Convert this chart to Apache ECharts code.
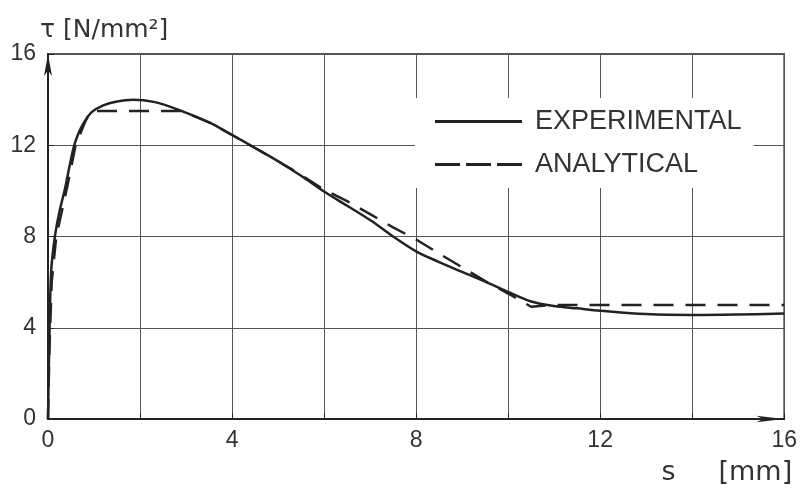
<!DOCTYPE html>
<html>
<head>
<meta charset="utf-8">
<title>tau - s</title>
<script src="https://cdn.jsdelivr.net/npm/echarts@6.0.0/dist/echarts.min.js"></script>
<style>
  html, body { margin: 0; padding: 0; background: #fff; }
  #main { width: 800px; height: 495px; }
</style>
</head>
<body>
<div id="main"></div>
<script>
// 实验曲线 (slip s in mm, shear stress tau in N/mm2)
const expS = [0, 0.03, 0.07, 0.15, 0.25, 0.37, 0.47, 0.57, 0.68, 0.8,
  0.95, 1.2, 1.5, 1.85, 2.3, 2.87, 3.5, 4.0, 4.5, 5.0,
  5.5, 6.0, 6.5, 7.0, 7.5, 8.0, 8.5, 9.0, 9.5, 10.0,
  10.5, 11.0, 11.5, 12.0, 13.0, 14.0, 15.0, 16.0];
const expTau = [0, 3.5, 6.5, 8.0, 9.1, 10.1, 11.1, 12.0, 12.6, 13.05,
  13.45, 13.75, 13.92, 14.0, 13.9, 13.53, 13.0, 12.45, 11.88, 11.3,
  10.66, 9.97, 9.35, 8.72, 8.0, 7.35, 6.88, 6.45, 6.02, 5.57,
  5.15, 4.95, 4.85, 4.75, 4.6, 4.56, 4.58, 4.62];

// 解析曲线
const anaS = [0, 0.03, 0.08, 0.18, 0.42, 0.6, 0.8, 0.92, 2.9, 3.5,
  4.0, 4.5, 5.0, 5.5, 6.0, 6.5, 7.0, 7.5, 8.0, 8.5,
  9.0, 9.5, 10.0, 10.5, 11.0, 16.0];
const anaTau = [0, 3.0, 6.0, 8.0, 10.2, 12.0, 13.0, 13.5, 13.5, 13.0,
  12.45, 11.88, 11.3, 10.7, 10.05, 9.55, 8.98, 8.4, 7.87, 7.25,
  6.65, 6.05, 5.5, 4.92, 5.0, 5.0];

const xLabels = [0, 4, 8, 12, 16];
const yLabels = [0, 4, 8, 12, 16];
const seriesNames = ["EXPERIMENTAL", "ANALYTICAL"];

const pairs = (xs, ys) => xs.map((x, i) => [x, ys[i]]);

const ink = "#222";
const font = "Liberation Sans";

const myChart = echarts.init(document.getElementById("main"));
const option = {
  animation: false,
  backgroundColor: "#fff",
  grid: {
    left: 48,
    right: 15,
    top: 54,
    bottom: 76,
    show: true,
    borderColor: ink,
    borderWidth: 1.5
  },
  legend: {
    orient: "vertical",
    left: 415,
    top: 98,
    padding: [10, 12, 10, 20],
    backgroundColor: "#fff",
    itemWidth: 87,
    itemHeight: 3,
    itemGap: 16,
    itemStyle: { color: ink },
    // 图例用自画的实线/虚线
    data: [
      { name: seriesNames[0], icon: "rect" },
      { name: seriesNames[1], icon: "path://M0,0h25v3h-25z M31,0h25v3h-25z M62,0h25v3h-25z" }
    ],
    textStyle: {
      fontFamily: font,
      fontSize: 27,
      color: "#333",
      padding: [0, 0, 0, 8]
    }
  },
  xAxis: {
    type: "value",
    min: 0,
    max: 16,
    interval: 2,
    name: "s     [mm]",
    nameLocation: "end",
    nameGap: 8,
    nameTextStyle: {
      fontFamily: "DejaVu Sans",
      fontSize: 27,
      color: "#333",
      align: "right",
      verticalAlign: "top",
      padding: [40, 0, 0, 0]
    },
    axisLine: {
      lineStyle: { color: ink, width: 2 },
      symbol: ["none", "arrow"],
      symbolSize: [5, 28],
      symbolOffset: [0, 0]
    },
    axisTick: { inside: true, length: 6, lineStyle: { color: ink } },
    axisLabel: {
      margin: 10,
      fontFamily: font,
      fontSize: 23,
      color: "#333",
      formatter: v => (xLabels.includes(v) ? String(v) : "")
    },
    splitLine: { lineStyle: { color: "#555", width: 1 } }
  },
  yAxis: {
    type: "value",
    min: 0,
    max: 16,
    interval: 4,
    name: "τ [N/mm²]",
    nameLocation: "end",
    nameGap: 10,
    nameTextStyle: {
      fontFamily: "DejaVu Sans",
      fontSize: 25,
      color: "#333",
      align: "left",
      padding: [0, 0, 0, -8]
    },
    axisLine: {
      show: true,
      lineStyle: { color: ink, width: 2 },
      symbol: ["none", "arrow"],
      symbolSize: [6, 22],
      symbolOffset: [0, 0]
    },
    axisTick: { show: true, inside: true, length: 6, lineStyle: { color: ink } },
    axisLabel: {
      margin: 12,
      fontFamily: font,
      fontSize: 23,
      color: "#333",
      formatter: v => (yLabels.includes(v) ? String(v) : "")
    },
    splitLine: { lineStyle: { color: "#555", width: 1 } }
  },
  series: [
    {
      name: seriesNames[0],
      type: "line",
      data: pairs(expS, expTau),
      symbol: "none",
      smooth: 0.35,
      lineStyle: { color: ink, width: 2.5, type: "solid" },
      itemStyle: { color: ink }
    },
    {
      name: seriesNames[1],
      type: "line",
      data: pairs(anaS, anaTau),
      symbol: "none",
      lineStyle: { color: ink, width: 2.5, type: [20, 12] },
      itemStyle: { color: ink }
    }
  ]
};
myChart.setOption(option);
</script>
</body>
</html>
